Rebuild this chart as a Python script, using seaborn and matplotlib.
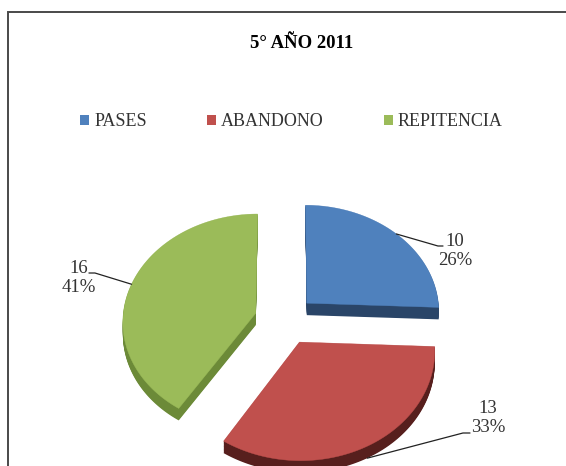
import numpy as np
import matplotlib
matplotlib.use('Agg')
import matplotlib.pyplot as plt
import matplotlib.transforms as mtransforms
from matplotlib.path import Path
from matplotlib.patches import Patch, Rectangle
import seaborn as sns

# datos
categories = ['PASES', 'ABANDONO', 'REPITENCIA']
values = [10, 13, 16]
title = '5° AÑO 2011'

sns.set_style('white')
plt.rcParams['font.family'] = ['Liberation Serif', 'DejaVu Serif']

top_colors = sns.color_palette(['#4F81BD', '#C0504D', '#9BBB59'])
side_colors = sns.color_palette(['#2A4568', '#571F1D', '#6C8A38'])

EXPLODE = 0.23
DEPTH = 0.12


class Tilt(mtransforms.Transform):
    """pseudo perspectiva: el frente del disco se ve mas grande"""
    input_dims = 2
    output_dims = 2
    is_separable = False
    has_inverse = False

    def __init__(self, k=0.07, a=1.07):
        super().__init__()
        self.k = k
        self.a = a

    def transform_non_affine(self, xy):
        xy = np.asarray(xy, dtype=float)
        s = 1.0 / (1.0 + self.k * xy[:, 1])
        return np.column_stack([xy[:, 0] * s, self.a * xy[:, 1] * s])

    def transform_path_non_affine(self, path):
        pts = []
        for bez, code in path.iter_bezier():
            if code == Path.MOVETO:
                pts.append(bez.control_points[0])
            elif bez.degree == 1:
                t = np.linspace(0, 1, 8)[1:]
                pts.extend(bez(t))
            else:
                t = np.linspace(0, 1, 40)[1:]
                pts.extend(bez(t))
        pts = np.array(pts)
        return Path(self.transform_non_affine(pts))


fig = plt.figure(figsize=(5.66, 4.66), dpi=100)
ax = fig.add_axes([0, 0, 1, 1])

tilt = Tilt()
pie_kw = dict(explode=[EXPLODE] * 3, startangle=90, counterclock=False)

# lados (extrusion)
for d in np.linspace(DEPTH, 0.004, 16):
    wedges, _ = ax.pie(values, colors=side_colors,
                       wedgeprops=dict(linewidth=0), **pie_kw)
    for w in wedges:
        w.set_transform(tilt + mtransforms.Affine2D().translate(0, -d) + ax.transData)

# cara superior
wedges, _ = ax.pie(values, colors=top_colors,
                   wedgeprops=dict(linewidth=0.3), **pie_kw)
for w, c in zip(wedges, top_colors):
    w.set_edgecolor(c)
    w.set_transform(tilt + ax.transData)

# etiquetas con lineas guia
total = sum(values)
fracs = np.array(values) / total
mids = 90 - 360 * (np.cumsum(fracs) - fracs / 2)
label_pos = [(1.278, 0.69), (1.526, -0.98), (-1.549, 0.42)]
leader_elbow = [(1.150, 0.74), (1.338, -1.13), (-1.429, 0.47)]
leader_end = [(1.188, 0.74), (1.391, -1.13), (-1.474, 0.47)]
on_side = [False, True, False]

for v, f, m, pos, el, en, side in zip(values, fracs, mids, label_pos,
                                      leader_elbow, leader_end, on_side):
    r = 1 + EXPLODE
    ax_, ay_ = tilt.transform_non_affine([[r * np.cos(np.radians(m)),
                                           r * np.sin(np.radians(m))]])[0]
    if side:
        ay_ -= DEPTH
    ax.plot([ax_, el[0], en[0]], [ay_, el[1], en[1]], color='#222222', lw=0.9)
    ax.text(pos[0], pos[1], f'{v}\n{round(f * 100)}%', ha='center', va='center',
            multialignment='center', fontsize=13.5, color='#333333')

ax.set_aspect('auto')
ax.set_xlim(-285 / 133, (566 - 285) / 133)
ax.set_ylim((320 - 466) / 100, 320 / 100)
ax.axis('off')

fig.text(302 / 566, 1 - 43 / 466, title, ha='center', va='center',
         fontsize=13.5, fontweight='bold', color='black')

handles = [Patch(facecolor=c, edgecolor='none') for c in top_colors]
fig.legend(handles, categories, loc='center', bbox_to_anchor=(0.515, 1 - 122 / 466),
           ncol=3, frameon=False, handlelength=0.5, handleheight=0.5,
           handletextpad=0.3, columnspacing=3.3,
           prop={'family': 'Liberation Serif', 'size': 13}, labelcolor='#333333')

# marco
top = 1 - 12 / 466
fig.add_artist(Rectangle((8 / 566, -0.2), 1.2, top + 0.2, fill=False,
                         edgecolor='#4a4a4a', lw=1.4, transform=fig.transFigure))

fig.savefig('out.png', dpi=100)
